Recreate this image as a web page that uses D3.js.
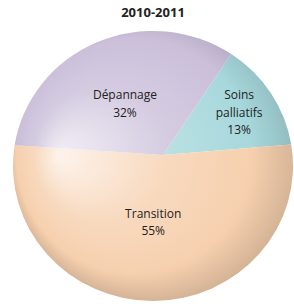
<!DOCTYPE html>
<head>
    <meta charset="utf-8">
    <script src="https://d3js.org/d3.v7.min.js"></script>
    <style>
        body { margin: 0; background: #fff; }
        text { font-family: "Open Sans", sans-serif; fill: #222; }
    </style>
</head>

<body>
    <div id="pie"></div>
</body>

<script>

    // data
    const title = "2010-2011";
    const categories = ["Soins palliatifs", "Transition", "Dépannage"];
    const values = [13, 55, 32];
    const colors = ["#a7d8dc", "#f6d0ae", "#cbbfda"];

    const width = 294,
        height = 304;

    const cx = 153, cy = 166,   // rim centre
        rx = 140, ry = 135,
        ax = 163, ay = 155;     // point where the slices meet (tilted view)

    // where each label sits, as a fraction of the radius
    const labelR = { "Soins palliatifs": 0.73, "Transition": 0.42, "Dépannage": 0.5 };

    const svg = d3.select("#pie").append("svg")
        .attr("width", width)
        .attr("height", height);

    const defs = svg.append("defs");

    colors.forEach((c, i) => {
        const g = defs.append("radialGradient")
            .attr("id", "g" + i)
            .attr("gradientUnits", "userSpaceOnUse")
            .attr("cx", cx).attr("cy", cy - 10)
            .attr("fx", cx - 95).attr("fy", cy - 10)
            .attr("r", rx * 1.05);
        const base = d3.color(c);
        g.append("stop").attr("offset", "0%").attr("stop-color", d3.interpolateRgb(c, "#fff")(0.75));
        g.append("stop").attr("offset", "45%").attr("stop-color", d3.interpolateRgb(c, "#fff")(0.2));
        g.append("stop").attr("offset", "80%").attr("stop-color", base.formatHex());
        g.append("stop").attr("offset", "100%").attr("stop-color", base.darker(0.45).formatHex());
    });

    const pie = d3.pie()
        .sort(null)
        .startAngle(34 * Math.PI / 180)
        .endAngle(394 * Math.PI / 180)
        .value(d => d);

    const rim = a => [cx + rx * Math.sin(a), cy - ry * Math.cos(a)];

    function slicePath(d) {
        const p0 = rim(d.startAngle), p1 = rim(d.endAngle);
        const large = d.endAngle - d.startAngle > Math.PI ? 1 : 0;
        return `M${ax},${ay}L${p0}A${rx},${ry} 0 ${large} 1 ${p1}Z`;
    }

    const arcs = pie(values);

    svg.selectAll("path.slice").data(arcs)
        .enter()
        .append("path")
        .attr("class", "slice")
        .attr("d", slicePath)
        .attr("fill", (d, i) => `url(#g${i})`);

    // labels
    const lab = svg.selectAll("text.lab").data(arcs)
        .enter()
        .append("text")
        .attr("class", "lab")
        .attr("text-anchor", "middle")
        .style("font-size", "12px")
        .attr("transform", (d, i) => {
            const a = (d.startAngle + d.endAngle) / 2;
            const r = labelR[categories[i]];
            return `translate(${cx + rx * r * Math.sin(a)},${cy - ry * r * Math.cos(a)})`;
        });

    lab.each(function(d, i) {
        const words = categories[i] === "Soins palliatifs" ? ["Soins", "palliatifs"] : [categories[i]];
        const lines = words.concat([values[i] + "%"]);
        const t = d3.select(this);
        lines.forEach((s, k) => {
            t.append("tspan")
                .attr("x", 0)
                .attr("y", (k - (lines.length - 1) / 2) * 17.5 + 4)
                .text(s);
        });
    });

    svg.append("text")
        .attr("x", 153)
        .attr("y", 17)
        .attr("text-anchor", "middle")
        .style("font-size", "13px")
        .style("font-weight", "bold")
        .text(title);

</script>
